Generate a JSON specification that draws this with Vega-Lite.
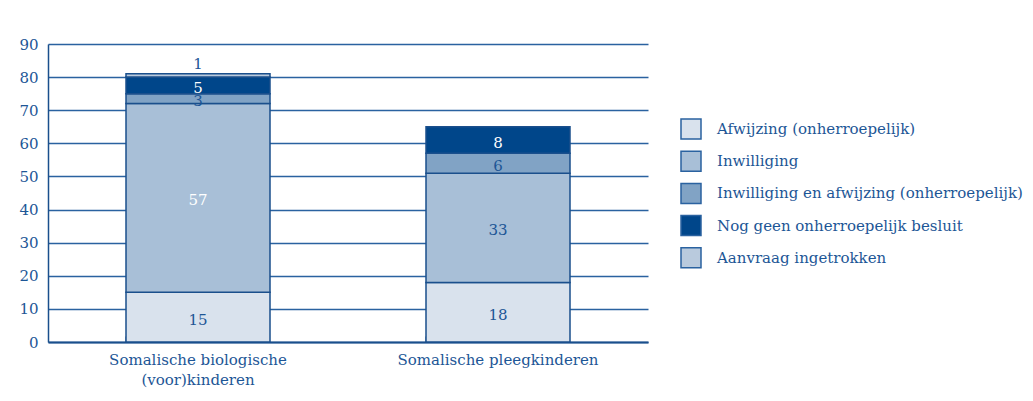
{
  "$schema": "https://vega.github.io/schema/vega-lite/v6.json",
  "autosize": {"type": "none"},
  "width": 600,
  "height": 298,
  "padding": {"left": 48, "top": 44, "right": 385, "bottom": 59},
  "background": "white",
  "config": {
    "view": {"stroke": null},
    "font": "DejaVu Serif",
    "axis": {"labelFont": "DejaVu Serif", "labelColor": "#1d5696", "labelFontSize": 15},
    "axisY": {"tickCount": 10, "labelOverlap": false},
    "axisQuantitative": {"tickCount": 10},
    "legend": {"labelFont": "DejaVu Serif", "labelColor": "#1d5696", "labelFontSize": 15}
  },
  "data": {
    "values": [
      {"group": "Somalische biologische (voor)kinderen", "status": "Afwijzing (onherroepelijk)", "order": 1, "value": 15},
      {"group": "Somalische biologische (voor)kinderen", "status": "Inwilliging", "order": 2, "value": 57},
      {"group": "Somalische biologische (voor)kinderen", "status": "Inwilliging en afwijzing (onherroepelijk)", "order": 3, "value": 3},
      {"group": "Somalische biologische (voor)kinderen", "status": "Nog geen onherroepelijk besluit", "order": 4, "value": 5},
      {"group": "Somalische biologische (voor)kinderen", "status": "Aanvraag ingetrokken", "order": 5, "value": 1},
      {"group": "Somalische pleegkinderen", "status": "Afwijzing (onherroepelijk)", "order": 1, "value": 18},
      {"group": "Somalische pleegkinderen", "status": "Inwilliging", "order": 2, "value": 33},
      {"group": "Somalische pleegkinderen", "status": "Inwilliging en afwijzing (onherroepelijk)", "order": 3, "value": 6},
      {"group": "Somalische pleegkinderen", "status": "Nog geen onherroepelijk besluit", "order": 4, "value": 8}
    ]
  },
  "transform": [
    {"stack": "value", "groupby": ["group"], "sort": [{"field": "order", "order": "ascending"}], "as": ["y0", "y1"]},
    {"calculate": "(datum.y0 + datum.y1) / 2", "as": "mid"}
  ],
  "encoding": {
    "x": {
      "field": "group", "type": "nominal", "sort": null, "title": null,
      "scale": {"paddingInner": 0.52, "paddingOuter": 0.26},
      "axis": {
        "labelAngle": 0, "labelPadding": 16, "labelLineHeight": 20, "labelBaseline": "top",
        "labelExpr": "datum.value == 'Somalische biologische (voor)kinderen' ? ['Somalische biologische', '(voor)kinderen'] : datum.label",
        "domainColor": "#1a4f8c", "domainWidth": 2,
        "ticks": true, "bandPosition": 0, "tickColor": "#1a4f8c", "tickWidth": 2, "tickSize": -6,
        "labelLimit": 300
      }
    },
    "y": {
      "field": "y0", "type": "quantitative", "title": null,
      "scale": {"domain": [0, 90], "nice": false},
      "axis": {
        "tickCount": 10, "tickMinStep": 10, "labelOverlap": false,
        "grid": true, "gridColor": "#2a62a0", "gridWidth": 1.3,
        "ticks": false, "labelPadding": 10, "domain": true, "domainColor": "#1a4f8c", "domainWidth": 1.5
      }
    }
  },
  "layer": [
    {
      "mark": {"type": "bar", "stroke": "#1a4f8c", "strokeWidth": 1.5},
      "encoding": {
        "y2": {"field": "y1"},
        "color": {
          "field": "status", "type": "nominal",
          "scale": {
            "domain": ["Afwijzing (onherroepelijk)", "Inwilliging", "Inwilliging en afwijzing (onherroepelijk)", "Nog geen onherroepelijk besluit", "Aanvraag ingetrokken"],
            "range": ["#d9e2ed", "#a8bfd7", "#81a3c5", "#00468a", "#b9cadd"]
          },
          "legend": {
            "title": null, "orient": "none", "legendX": 632, "legendY": 74,
            "symbolType": "square", "symbolSize": 400, "symbolStrokeColor": "#2a62a0", "symbolStrokeWidth": 1.5,
            "symbolOpacity": 1, "labelOffset": 15, "rowPadding": 6.2, "labelLimit": 400
          }
        }
      }
    },
    {
      "transform": [{"filter": "datum.value >= 2"}],
      "mark": {"type": "text", "fontSize": 15, "baseline": "middle", "dy": 2.5},
      "encoding": {
        "y": {"field": "mid", "type": "quantitative"},
        "text": {"field": "value", "type": "quantitative"},
        "color": {
          "condition": {"test": "datum.status == 'Nog geen onherroepelijk besluit' || datum.value == 57", "value": "white"},
          "value": "#1d5696"
        }
      }
    },
    {
      "transform": [{"filter": "datum.value < 2"}],
      "mark": {"type": "text", "fontSize": 15, "baseline": "bottom", "dy": -2},
      "encoding": {
        "y": {"field": "y1", "type": "quantitative"},
        "text": {"field": "value", "type": "quantitative"},
        "color": {"value": "#1d5696"}
      }
    }
  ]
}
